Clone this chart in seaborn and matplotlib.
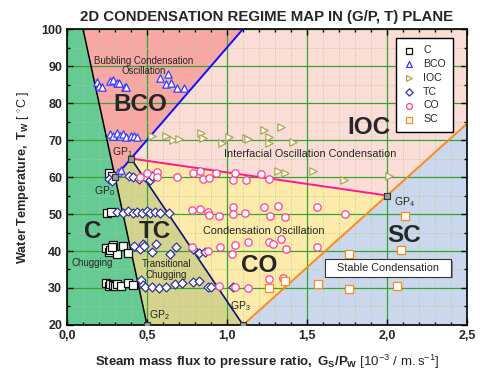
import numpy as np
import matplotlib
matplotlib.use("Agg")
import matplotlib.pyplot as plt
import seaborn as sns
from matplotlib.patches import Rectangle
from matplotlib.ticker import MultipleLocator, FuncFormatter

# transition points GP0..GP4 (G/P, T)
gp_x = [0.3, 0.4, 0.5, 1.1, 2.0]
gp_t = [60, 65, 20, 20, 55]
# where the C/BCO and BCO/IOC boundaries reach T = 100
c_top_x = 0.1
bco_top_x = 1.1

C_x = [0.26, 0.28, 0.25, 0.275, 0.245, 0.26, 0.27, 0.29, 0.31, 0.35, 0.38, 0.28,
       0.245, 0.26, 0.27, 0.285, 0.30, 0.31, 0.34, 0.38, 0.41]
C_t = [61.0, 60.4, 50.4, 50.6, 40.7, 39.8, 40.3, 41.6, 39.1, 41.4, 39.4, 41.2,
       31.3, 30.6, 31.1, 30.8, 30.6, 31.1, 30.6, 31.3, 30.8]

BCO_x = [0.19, 0.20, 0.22, 0.27, 0.29, 0.31, 0.325, 0.36, 0.37, 0.58, 0.63, 0.62,
         0.65, 0.69, 0.73, 0.27, 0.29, 0.31, 0.33, 0.35, 0.37, 0.40, 0.42, 0.44,
         0.32, 0.34]
BCO_t = [85.6, 84.6, 84.2, 86.0, 86.2, 85.4, 85.5, 84.2, 84.2, 86.7, 87.8, 85.1,
         85.3, 84.1, 84.1, 71.5, 71.0, 72.0, 71.0, 71.5, 70.8, 71.2, 71.0, 70.8,
         61.3, 61.8]

IOC_x = [0.53, 0.62, 0.66, 0.70, 0.84, 0.85, 0.97, 1.01, 1.12, 1.13, 1.23, 1.26,
         1.26, 1.34, 1.41, 1.32, 1.36, 1.54, 1.73, 2.01]
IOC_t = [71.0, 71.0, 70.0, 70.3, 71.8, 70.5, 69.2, 70.7, 70.5, 70.2, 72.8, 70.7,
         69.2, 73.5, 69.5, 61.6, 61.0, 61.7, 59.2, 60.2]

TC_x = [0.26, 0.28, 0.39, 0.41, 0.45, 0.49, 0.52, 0.53,
        0.31, 0.35, 0.38, 0.41, 0.44, 0.47, 0.50, 0.52, 0.55, 0.58, 0.64,
        0.42, 0.454, 0.475, 0.483, 0.53, 0.558, 0.642, 0.683, 0.79, 0.823, 0.86,
        0.46, 0.475, 0.49, 0.53, 0.573, 0.62, 0.677, 0.72, 0.79, 0.823, 0.88, 0.90, 1.04]
TC_t = [59.4, 59.0, 60.3, 59.9, 59.4, 59.9, 59.2, 60.3,
        50.6, 50.3, 50.8, 50.4, 50.6, 50.2, 50.8, 50.3, 50.6, 50.4, 50.3,
        41.3, 40.5, 41.9, 41.3, 39.8, 41.9, 39.2, 41.0, 40.5, 39.5, 39.8,
        32.2, 30.8, 30.4, 30.4, 29.9, 30.4, 31.1, 31.3, 31.7, 32.0, 30.2, 30.2, 30.4]

CO_x = [0.456, 0.50, 0.56, 0.56, 0.685, 0.79, 0.83, 0.85, 0.89, 0.93, 1.04, 1.05,
        1.12, 1.21, 1.26,
        0.78, 0.83, 0.88, 0.89, 0.95, 1.04, 1.04, 1.11, 1.23, 1.27, 1.32, 1.36, 1.56, 1.74,
        0.78, 0.88, 0.955, 1.03, 1.05, 1.13, 1.26, 1.29, 1.34, 1.37, 1.56,
        0.95, 1.05, 1.13, 1.26, 1.35]
CO_t = [60.1, 61.0, 61.4, 60.1, 60.1, 61.0, 61.7, 59.4, 59.6, 61.2, 59.2, 61.2,
        59.2, 60.7, 59.4,
        51.1, 51.3, 50.6, 49.7, 49.5, 52.0, 50.1, 50.4, 51.8, 49.5, 52.1, 49.2, 51.9, 50.0,
        41.0, 39.9, 41.0, 39.2, 41.5, 42.5, 42.3, 41.8, 43.2, 40.5, 41.0,
        30.5, 30.2, 30.0, 32.3, 32.6]

SC_x = [2.11, 2.085, 1.76, 1.57, 1.76, 2.06, 1.36, 1.26]
SC_t = [49.5, 40.3, 39.2, 31.0, 29.7, 30.6, 32.0, 30.1]

series = [
    ("C", C_x, C_t, "s", "#111111"),
    ("BCO", BCO_x, BCO_t, "^", "#3a3aff"),
    ("IOC", IOC_x, IOC_t, ">", "#a8a850"),
    ("TC", TC_x, TC_t, "D", "#34349a"),
    ("CO", CO_x, CO_t, "o", "#ff3f9a"),
    ("SC", SC_x, SC_t, "s", "#ff8a1a"),
]

sns.set_style("ticks")
plt.rcParams["font.family"] = ["Liberation Sans", "DejaVu Sans"]
plt.rcParams["mathtext.fontset"] = "custom"
plt.rcParams["mathtext.rm"] = "Liberation Sans"
plt.rcParams["mathtext.it"] = "Liberation Sans:italic"
plt.rcParams["mathtext.bf"] = "Liberation Sans:bold"

fig, ax = plt.subplots(figsize=(4.8, 3.71), dpi=100)
fig.subplots_adjust(left=0.1396, right=0.973, top=0.9218, bottom=0.124)

x_max, t_min, t_max = 2.5, 20, 100
g0, g1, g2, g3, g4 = list(zip(gp_x, gp_t))
slope = (g4[1] - g3[1]) / (g4[0] - g3[0])
edge = (x_max, g3[1] + slope * (x_max - g3[0]))

regions = [
    ([0, 0, c_top_x, g2[0]], [t_min, t_max, t_max, g2[1]], "#66ca94"),
    ([c_top_x, bco_top_x, g0[0]], [t_max, t_max, g0[1]], "#f8a7a5"),
    ([bco_top_x, x_max, edge[0], g4[0], g1[0]], [t_max, t_max, edge[1], g4[1], g1[1]], "#fcdcd6"),
    ([g0[0], g1[0], g3[0], g2[0]], [g0[1], g1[1], g3[1], g2[1]], "#d5d38e"),
    ([g1[0], g4[0], g3[0]], [g1[1], g4[1], g3[1]], "#feeaaa"),
    ([g3[0], x_max, edge[0], g4[0]], [g3[1], t_min, edge[1], g4[1]], "#cad7ec"),
]
for xs, ts, col in regions:
    ax.fill(xs, ts, color=col, lw=0, zorder=0.1)

# regime boundaries
ax.plot([c_top_x, g2[0]], [t_max, g2[1]], color="black", lw=1.1, zorder=2)
ax.plot([g0[0], bco_top_x], [g0[1], t_max], color="#1010ff", lw=1.4, zorder=2)
ax.plot([g1[0], g3[0]], [g1[1], g3[1]], color="#10107a", lw=1.2, zorder=2)
ax.plot([g1[0], g4[0]], [g1[1], g4[1]], color="#ff1a8c", lw=1.4, zorder=2)
ax.plot([g3[0], edge[0]], [g3[1], edge[1]], color="#ff8a1a", lw=1.4, zorder=2)

for name, xs, ts, mk, col in series:
    sns.scatterplot(x=xs, y=ts, marker=mk, s=28 if mk != "D" else 21,
                    facecolor="white", edgecolor=col, linewidth=0.9,
                    label=name, ax=ax, zorder=3)

ax.scatter(gp_x, gp_t, marker="s", s=14, facecolor="#9a9a9a",
           edgecolor="#333333", linewidth=0.8, zorder=4)
gp_text = [(0.235, 56.3), (0.345, 66.8), (0.575, 22.8), (1.085, 25.0), (2.11, 53.3)]
for i, (tx, ty) in enumerate(gp_text):
    ax.text(tx, ty, f"GP$_{i}$", fontsize=7.5, ha="center", va="center", zorder=5)

big = dict(fontsize=17.5, fontweight="bold", ha="center", va="center", zorder=5)
ax.text(0.455, 79.5, "BCO", **big)
ax.text(1.89, 73.5, "IOC", **big)
ax.text(0.16, 45.4, "C", **big)
ax.text(0.55, 45.4, "TC", **big)
ax.text(1.2, 36.0, "CO", **big)
ax.text(2.11, 44.3, "SC", **big)

small = dict(fontsize=6.9, ha="center", va="center", zorder=5, linespacing=1.1)
ax.text(0.48, 90.0, "Bubbling Condensation\nOscillation", **small)
ax.text(0.16, 36.8, "Chugging", **small)
ax.text(0.62, 35.0, "Transitional\nChugging", **small)
mid = dict(small, fontsize=7.8)
ax.text(1.52, 66.2, "Interfacial Oscillation Condensation", **mid)
ax.text(1.23, 45.5, "Condensation Oscillation", **mid)

ax.add_patch(Rectangle((1.625, 32.6), 0.79, 4.7, facecolor="#888888", lw=0, zorder=4.5))
ax.add_patch(Rectangle((1.61, 33.1), 0.79, 4.7, facecolor="white",
                       edgecolor="#333333", lw=0.8, zorder=4.6))
ax.text(2.005, 35.45, "Stable Condensation", fontsize=7.8, ha="center", va="center", zorder=5)

ax.set_xlim(0, x_max)
ax.set_ylim(t_min, t_max)
ax.xaxis.set_major_locator(MultipleLocator(0.5))
ax.xaxis.set_minor_locator(MultipleLocator(0.1))
ax.yaxis.set_major_locator(MultipleLocator(10))
ax.yaxis.set_minor_locator(MultipleLocator(5))
ax.xaxis.set_major_formatter(FuncFormatter(lambda v, p: f"{v:.1f}".replace(".", ",")))
ax.yaxis.set_major_formatter(FuncFormatter(lambda v, p: f"{v:.0f}"))
ax.set_axisbelow(True)
ax.grid(which="major", color="#33a533", lw=0.9)
ax.grid(which="minor", color="#a9cf8c", lw=0.6, ls=":")
ax.tick_params(which="both", direction="in", top=True, right=True, width=1, color="black")
ax.tick_params(which="major", length=4, labelsize=9)
ax.tick_params(which="minor", length=2)
for lab in ax.get_xticklabels() + ax.get_yticklabels():
    lab.set_fontweight("bold")
for sp in ax.spines.values():
    sp.set_linewidth(1.2)
    sp.set_color("black")

ax.set_xlabel(r"$\mathbf{Steam\ mass\ flux\ to\ pressure\ ratio,\ G_S/P_W}\ \mathrm{[10^{-3}\ /\ m.s^{-1}]}$",
              fontsize=9.5, labelpad=8)
ax.set_ylabel(r"$\mathbf{Water\ Temperature,\ T_W}\ \mathrm{[\ ^{\circ}C\ ]}$",
              fontsize=9.1, labelpad=7)
ax.set_title("2D CONDENSATION REGIME MAP IN (G/P, T) PLANE", fontsize=10.8,
             fontweight="bold", pad=6)

ax.legend(loc="upper right", bbox_to_anchor=(0.965, 0.97), borderaxespad=0,
          frameon=True, fancybox=False, edgecolor="black", framealpha=1,
          fontsize=7.6, handletextpad=0.7, labelspacing=0.36, borderpad=0.7,
          handlelength=1.2, markerscale=0.8)

fig.savefig("out.png", dpi=100)
